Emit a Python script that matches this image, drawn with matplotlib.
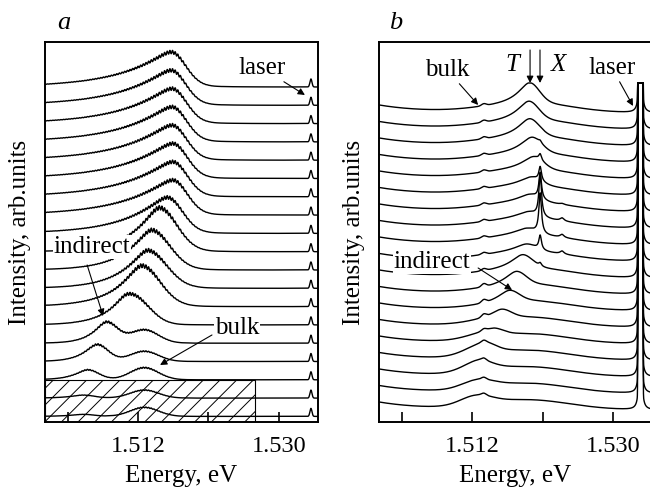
import numpy as np
import matplotlib.pyplot as plt
from matplotlib.patches import Rectangle

plt.rcParams['font.family'] = ['Liberation Serif', 'DejaVu Serif']
plt.rcParams['font.size'] = 18
plt.rcParams['hatch.linewidth'] = 0.7

# energy grid, eV
E = np.linspace(1.5001, 1.5350, 6000)
x_lim = (1.5001, 1.5350)
x_ticks = [1.503, 1.512, 1.521, 1.530]
x_labels = ['', '1.512', '', '1.530']

# ---- panel a: spectra listed from top to bottom ----
a_peak_E = [1.5163, 1.5163, 1.5164, 1.5164, 1.5164, 1.5165, 1.5165, 1.5165, 1.5158,
            1.5148, 1.5138, 1.5133, 1.5125, 1.5106, 1.5080, 1.5068, 1.5056, 1.5050, 1.5050]
a_peak_h = [35, 35, 35, 35, 35, 35, 35, 35, 36, 44, 40, 38, 37, 27, 21, 17, 10, 3, 2]
a_left_w = [6, 6, 6, 6, 6, 6, 6, 6, 5, 3.2, 3.2, 3.2, 3.4, 2.5, 1.6, 1.6, 1.6, 1.6, 1.6]   # meV
a_right_w = [1.8, 1.8, 1.8, 1.8, 1.8, 1.8, 1.8, 1.8, 1.9, 2.2, 2.3, 2.4, 2.4, 2.0, 1.4, 1.4, 1.4, 1.4, 1.4]
a_bulk_E = 1.5128
a_bulk_h = [0, 0, 0, 0, 0, 0, 0, 0, 0, 0, 0, 0, 4, 8, 13, 10, 12, 8, 9]
a_laser_E = 1.5341
a_laser_h = 8
a_step = 18.3

# ---- panel b: spectra listed from top to bottom ----
b_T_E = [1.5194, 1.5193, 1.5194, 1.5197, 1.5199, 1.5196, 1.5194, 1.5192, 1.5190, 1.5190,
         1.5185, 1.5177, 1.5168, 1.5158, 1.5148, 1.5138, 1.5130, 1.5128, 1.5126]
b_T_h = [20, 18, 17, 15, 12, 8, 7, 6, 6, 7, 13, 13, 11, 9, 6, 5, 3, 0, 0]
b_X_E = 1.5207
b_X_h = [0, 0, 0, 2, 6, 14, 26, 42, 40, 14, 3, 0, 0, 0, 0, 0, 0, 0, 0]
b_side_E = 1.5235
b_side_h = [0, 0, 0, 0, 0, 0, 1, 3, 3, 3, 0, 0, 0, 0, 0, 0, 0, 0, 0]
b_bulk_E = 1.5135
b_bulk_h = [2, 2, 2, 2, 2, 2, 2, 2, 2, 2, 2, 3, 3, 3, 2, 2, 2, 2, 2]
b_hump_E = [1.5128, 1.5128, 1.5128, 1.5128, 1.5128, 1.5128, 1.5128, 1.5128, 1.5128, 1.5128,
            1.5128, 1.5128, 1.5128, 1.5128, 1.5128, 1.5128, 1.5127, 1.5127, 1.5125]
b_hump_h = [0, 0, 0, 0, 0, 0, 0, 0, 0, 0, 0, 0, 0, 1, 3, 7, 8, 8, 9]
b_laser_E = 1.53352
b_cap = 339
b_step = 16.5


def asym_peak(E, E0, h, wl, wr):
    d = (E - E0) * 1e3
    left = np.exp(-(np.sqrt(d ** 2 + 1.0) - 1.0) / wl)
    right = 0.9 * np.exp(-d ** 2 / (2 * wr ** 2)) + 0.1 * np.exp(-np.abs(d) / 3.0)
    return h * np.where(d < 0, left, right)


def gauss(E, E0, h, s):
    d = (E - E0) * 1e3
    return h * np.exp(-d ** 2 / (2 * s ** 2))


def lorentz(E, E0, h, g):
    d = (E - E0) * 1e3
    return h * g ** 2 / (d ** 2 + g ** 2)


fig = plt.figure(figsize=(6.5, 4.92), dpi=100)
ax_a = fig.add_axes([0.0692, 0.1423, 0.42, 0.7724])
ax_b = fig.add_axes([0.5831, 0.1423, 0.42, 0.7724])

# panel a
for i in range(len(a_peak_E)):
    base = 335 - a_step * i
    sig = asym_peak(E, a_peak_E[i], a_peak_h[i], a_left_w[i], a_right_w[i])
    sig += gauss(E, a_bulk_E, a_bulk_h[i], 1.8)
    sig += sig * 0.05 * np.sin(2 * np.pi * (E - 1.5) / 0.00034)
    sig += gauss(E, a_laser_E, a_laser_h, 0.13)
    ax_a.plot(E, base + sig, color='k', lw=1.0)

ax_a.add_patch(Rectangle((1.5001, 0), 1.5270 - 1.5001, 42, fill=False, hatch='//',
                         lw=0.8, edgecolor='k'))

# panel b
for i in range(len(b_T_E)):
    base = 309 - b_step * i
    dl = (E - 1.5001) * 1e3
    bg = 8 * np.exp(-dl / 6.0) + 10 * np.exp(-((E - 1.519) * 1e3) ** 2 / 60.5)
    sig = asym_peak(E, b_T_E[i], b_T_h[i], 1.3, 1.2)
    sig += lorentz(E, b_X_E, b_X_h[i], 0.2)
    sig += lorentz(E, b_side_E, b_side_h[i], 0.3)
    sig += gauss(E, b_bulk_E, b_bulk_h[i], 0.3)
    sig += gauss(E, b_hump_E[i], b_hump_h[i], 2.0)
    dlas = (E - b_laser_E) * 1e3
    sig += 2 / (dlas ** 2 + 0.01) + 1e8 * np.exp(-dlas ** 2 / (2 * 0.066 ** 2))
    y = np.minimum(base + bg + sig, b_cap)
    ax_b.plot(E, y, color='k', lw=1.0)

for ax in (ax_a, ax_b):
    ax.set_xlim(*x_lim)
    ax.set_ylim(0, 380)
    ax.set_xticks(x_ticks)
    ax.set_xticklabels(x_labels)
    ax.set_yticks([])
    ax.tick_params(axis='x', direction='in', length=7, width=1.2, pad=10, labelsize=17.5)
    for sp in ax.spines.values():
        sp.set_linewidth(1.4)
    ax.set_xlabel('Energy, eV', fontsize=18, labelpad=6)
    ax.set_ylabel('Intensity, arb.units', fontsize=18, labelpad=10)

ax_a.text(0.045, 1.035, 'a', transform=ax_a.transAxes, fontsize=19, style='italic')
ax_b.text(0.035, 1.035, 'b', transform=ax_b.transAxes, fontsize=19, style='italic')

arrow = dict(arrowstyle='-|>', lw=0.8, color='k', mutation_scale=10, shrinkA=0, shrinkB=0)
white = dict(facecolor='white', edgecolor='none', pad=0.5)

ax_a.annotate('laser', xy=(1.53333, 327), xytext=(1.52784, 354), ha='center', va='center',
              arrowprops=arrow)
ax_a.annotate('', xy=(1.50753, 106), xytext=(1.50549, 157), arrowprops=arrow)
ax_a.text(1.50613, 175, 'indirect', ha='center', va='center', bbox=white, zorder=5)
ax_a.annotate('', xy=(1.51481, 57), xytext=(1.52145, 87), arrowprops=arrow)
ax_a.text(1.52464, 94, 'bulk', ha='center', va='center', bbox=white, zorder=5)

ax_b.annotate('bulk', xy=(1.51277, 317), xytext=(1.50881, 352), ha='center', va='center',
              arrowprops=arrow)
ax_b.annotate('', xy=(1.51941, 339), xytext=(1.51941, 372), arrowprops=arrow)
ax_b.annotate('', xy=(1.52068, 339), xytext=(1.52068, 372), arrowprops=arrow)
ax_b.text(1.51711, 357, 'T', ha='center', va='center', style='italic')
ax_b.text(1.52298, 357, 'X', ha='center', va='center', style='italic')
ax_b.annotate('laser', xy=(1.53257, 316), xytext=(1.52988, 354), ha='center', va='center',
              arrowprops=arrow)
ax_b.annotate('', xy=(1.51711, 132), xytext=(1.51277, 154), arrowprops=arrow)
ax_b.text(1.50689, 160, 'indirect', ha='center', va='center', bbox=white, zorder=5)

fig.savefig('out.png', dpi=100)
